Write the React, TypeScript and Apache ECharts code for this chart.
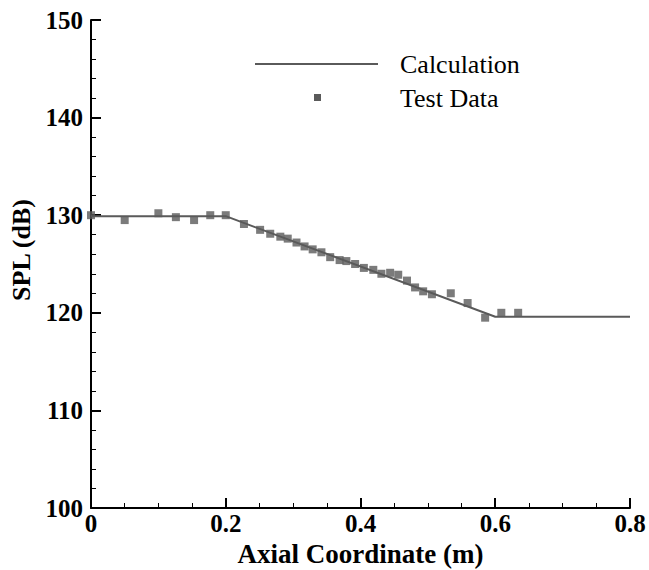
import React, { useEffect, useRef } from "react";
import * as echarts from "echarts";

const xTicks = [0, 0.2, 0.4, 0.6, 0.8];
const yTicks = [100, 110, 120, 130, 140, 150];

const calcX = [0, 0.2, 0.6, 0.8];
const calcY = [129.9, 129.9, 119.6, 119.6];

const testX = [0, 0.05, 0.1, 0.126, 0.153, 0.177, 0.2, 0.227, 0.251, 0.266, 0.281, 0.292, 0.305, 0.317, 0.329, 0.342, 0.355, 0.369, 0.379, 0.392, 0.405, 0.419, 0.431, 0.444, 0.456, 0.469, 0.481, 0.493, 0.506, 0.534, 0.559, 0.585, 0.609, 0.634];
const testY = [130.0, 129.5, 130.2, 129.8, 129.5, 130.0, 130.0, 129.1, 128.5, 128.1, 127.8, 127.6, 127.2, 126.8, 126.5, 126.2, 125.7, 125.4, 125.3, 125.0, 124.6, 124.4, 124.0, 124.1, 123.9, 123.3, 122.6, 122.2, 121.9, 122.0, 121.0, 119.5, 120.0, 120.0];

const FONT = "'Liberation Serif', 'Times New Roman', serif";

export default function App() {
  const ref = useRef<HTMLDivElement>(null);
  useEffect(() => {
    const chart = echarts.init(ref.current!, null, { renderer: "svg" });
    const gray = "#5a5a5a";
    chart.setOption({
      animation: false,
      backgroundColor: "#fff",
      grid: { left: 91, right: 19, top: 20, bottom: 62, containLabel: false, outerBoundsMode: "none" },
      xAxis: {
        type: "value",
        min: xTicks[0],
        max: xTicks[xTicks.length - 1],
        interval: 0.2,
        name: "Axial Coordinate (m)",
        nameLocation: "middle",
        nameGap: 25,
        nameTextStyle: { fontFamily: FONT, fontWeight: "bold", fontSize: 27, color: "#000" },
        axisLine: { lineStyle: { color: "#000", width: 2 } },
        axisTick: { inside: true, length: 10, lineStyle: { color: "#000", width: 2 } },
        minorTick: { show: true, splitNumber: 4, length: 5, lineStyle: { color: "#000", width: 1 } },
        splitLine: { show: false },
        axisLabel: {
          fontFamily: FONT, fontWeight: "bold", fontSize: 25, color: "#000", margin: 3,
          formatter: (v: number) => (v === 0 ? "0" : String(v)),
        },
      },
      yAxis: {
        type: "value",
        min: yTicks[0],
        max: yTicks[yTicks.length - 1],
        interval: 10,
        name: "SPL (dB)",
        nameLocation: "middle",
        nameGap: 50,
        nameTextStyle: { fontFamily: FONT, fontWeight: "bold", fontSize: 26, color: "#000", padding: [0, 0, 0, 28] },
        axisLine: { lineStyle: { color: "#000", width: 2 } },
        axisTick: { inside: true, length: 10, lineStyle: { color: "#000", width: 2 } },
        minorTick: { show: true, splitNumber: 5, length: 5, lineStyle: { color: "#000", width: 1 } },
        splitLine: { show: false },
        axisLabel: { fontFamily: FONT, fontWeight: "bold", fontSize: 25, color: "#000", margin: 8 },
      },
      series: [
        {
          name: "Calculation",
          type: "line",
          data: calcX.map((x, i) => [x, calcY[i]]),
          showSymbol: false,
          lineStyle: { color: gray, width: 2 },
          z: 2,
        },
        {
          name: "Test Data",
          type: "scatter",
          data: testX.map((x, i) => [x, testY[i]]),
          symbol: "rect",
          symbolSize: 8,
          itemStyle: { color: gray },
          z: 3,
        },
      ],
      graphic: [
        { type: "line", shape: { x1: 255, y1: 64, x2: 378, y2: 64 }, style: { stroke: gray, lineWidth: 2 } },
        { type: "rect", shape: { x: 314, y: 94, width: 7, height: 7 }, style: { fill: gray } },
        { type: "text", x: 400, y: 64, style: { text: "Calculation", font: `26px ${FONT}`, fill: "#000", textVerticalAlign: "middle" } },
        { type: "text", x: 400, y: 98, style: { text: "Test Data", font: `26px ${FONT}`, fill: "#000", textVerticalAlign: "middle" } },
      ],
    });
    return () => chart.dispose();
  }, []);
  return <div ref={ref} style={{ width: 649, height: 570, position: "absolute", left: 0, top: 0 }} />;
}
